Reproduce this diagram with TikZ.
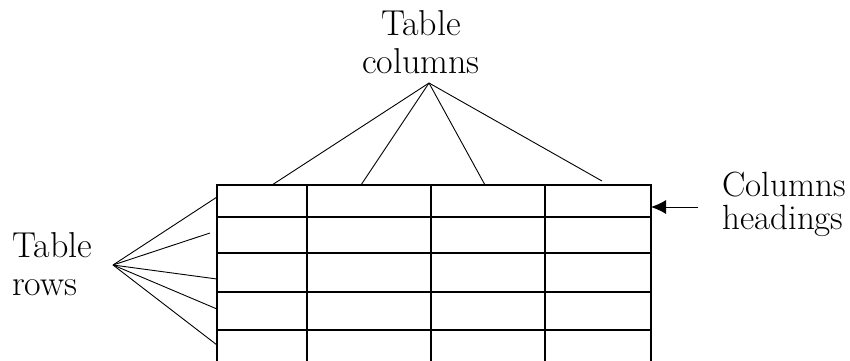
\documentclass[tikz,border=0pt]{standalone}
\usetikzlibrary{arrows.meta}
\begin{document}
\begin{tikzpicture}[x=1pt,y=-1pt,
  gridline/.style={line width=1.3pt,black},
  pointer/.style={line width=0.9pt,black},
  lbl/.style={inner sep=0pt,font=\fontsize{36}{38}\selectfont}]
\useasboundingbox (0,0) rectangle (850,360);
\clip (0,0) rectangle (850,360);
% table grid
\draw[gridline] (217,370) -- (217,185) -- (651,185) -- (651,370);
\foreach \yy in {217,253,292,330} \draw[gridline] (217,\yy) -- (651,\yy);
\foreach \xx in {307,431,545} \draw[gridline] (\xx,185) -- (\xx,370);
% labels (base anchor = baseline of the last line)
\node[lbl,anchor=base,align=center] (colslbl) at (421,73) {Table\\columns};
\node[lbl,anchor=base west,align=left] (rowslbl) at (12,295) {Table\\rows};
\node[lbl,anchor=base west,align=left,font=\fontsize{35}{33}\selectfont] (headlbl) at (722,229) {Columns\\headings};
% connector points
\coordinate (ctop) at (429,83);
\coordinate (c1) at (272,185);
\coordinate (c2) at (361,185);
\coordinate (c3) at (485,185);
\coordinate (c4) at (602,181);
\coordinate (rleft) at (113,265);
\coordinate (r1) at (217,197);
\coordinate (r2) at (210,233);
\coordinate (r3) at (217,279);
\coordinate (r4) at (217,309);
\coordinate (r5) at (217,345);
\coordinate (hstart) at (698,207);
\coordinate (hend) at (651,207);
\foreach \p in {c1,c2,c3,c4} \draw[pointer] (ctop) -- (\p);
\foreach \p in {r1,r2,r3,r4,r5} \draw[pointer] (rleft) -- (\p);
\draw[pointer,-{Latex[length=15pt,width=14pt]}] (hstart) -- (hend);
\end{tikzpicture}
\end{document}
